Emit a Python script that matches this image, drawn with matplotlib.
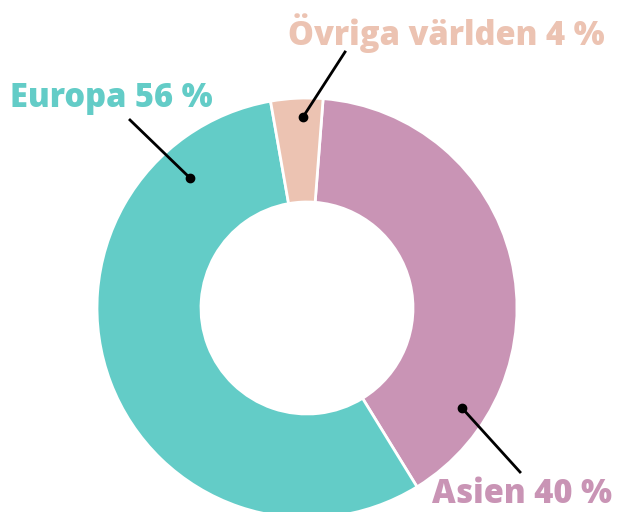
import matplotlib
matplotlib.use("Agg")
import matplotlib.pyplot as plt

labels = ["Asien", "Europa", "Övriga världen"]
values = [40, 56, 4]
colors = ["#C994B5", "#63CCC7", "#ECC3B2"]

W, H = 617, 512
fig = plt.figure(figsize=(W / 100, H / 100), dpi=100)
ax = fig.add_axes([0, 0, 1, 1])

cx, cy, R = 307, H - 308, 210
ax.pie(values, colors=colors, startangle=85.6, counterclock=False,
       center=(cx, cy), radius=R, frame=True,
       wedgeprops=dict(width=R - 106, edgecolor="white", linewidth=2))
ax.set_xlim(0, W)
ax.set_ylim(0, H)
ax.set_aspect("equal")
ax.axis("off")

def py(y):
    return H - y

font = dict(family="Open Sans", fontweight=800, fontsize=23.5)

# Europa
ax.plot([130, 190], [py(120), py(178)], color="black", lw=2)
ax.plot([190], [py(178)], "o", color="black", ms=6)
ax.text(10, py(98), f"{labels[1]} {values[1]} %", color=colors[1], ha="left", va="center", **font)

# Övriga
ax.plot([345, 303], [py(52), py(117)], color="black", lw=2)
ax.plot([303], [py(117)], "o", color="black", ms=6)
ax.text(605, py(33), f"{labels[2]} {values[2]} %", color=colors[2], ha="right", va="center", **font)

# Asien
ax.plot([462, 520], [py(408), py(472)], color="black", lw=2)
ax.plot([462], [py(408)], "o", color="black", ms=6)
ax.text(612, py(494), f"{labels[0]} {values[0]} %", color=colors[0], ha="right", va="center", **font)

fig.savefig("out.png", dpi=100)
